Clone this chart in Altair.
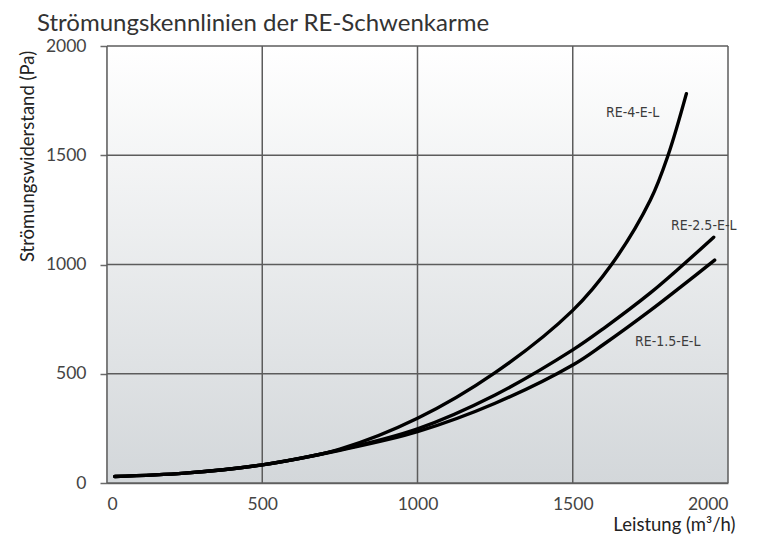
import altair as alt
import pandas as pd

# --- data ---
x_re4 = [25, 250, 500, 750, 1000, 1250, 1500, 1625, 1750, 1807, 1866]
y_re4 = [30, 45, 83, 155, 296, 505, 790, 1000, 1295, 1500, 1782]

x_re25 = [25, 250, 500, 750, 1000, 1250, 1500, 1600, 1750, 1850, 1954]
y_re25 = [30, 45, 83, 152, 248, 403, 609, 708, 870, 992, 1125]

x_re15 = [25, 250, 500, 750, 1000, 1250, 1500, 1600, 1750, 1850, 1957]
y_re15 = [30, 45, 83, 150, 235, 365, 540, 635, 790, 900, 1020]

series_names = ["RE-4-E-L", "RE-2.5-E-L", "RE-1.5-E-L"]
label_x = [1693, 1922, 1806]
label_y = [1694, 1178, 645]

x_ticks = [0, 500, 1000, 1500, 2000]
y_ticks = [0, 500, 1000, 1500, 2000]

rows = []
for name, xs, ys in zip(series_names, [x_re4, x_re25, x_re15], [y_re4, y_re25, y_re15]):
    for i, (a, b) in enumerate(zip(xs, ys)):
        rows.append({"serie": name, "q": a, "p": b, "order": i})
df = pd.DataFrame(rows)
labels = pd.DataFrame({"serie": series_names, "q": label_x, "p": label_y})
vgrid = pd.DataFrame({"q": x_ticks})
hgrid = pd.DataFrame({"p": y_ticks})

W, H = 621, 437
FONT = "Lato"

xscale = alt.Scale(domain=[0, 2000], nice=False, zero=False)
yscale = alt.Scale(domain=[0, 2000], nice=False, zero=False)

xaxis = alt.Axis(values=x_ticks, format="d", title="Leistung (m³/h)", ticks=False,
                 grid=False, labelPadding=12, titleX=628, titleY=41,
                 titleAlign="right", titleAnchor="end", titleBaseline="middle")
yaxis = alt.Axis(values=y_ticks, format="d", title="Strömungswiderstand (Pa)",
                 grid=False, tickSize=7, labelPadding=14,
                 titleX=-80, titleY=110, titleAngle=-90,
                 titleAlign="center", titleAnchor="middle", titleBaseline="middle")

background = alt.Chart(pd.DataFrame({"a": [0]})).mark_rect(
    fill={"gradient": "linear", "x1": 0, "y1": 0, "x2": 0, "y2": 1,
          "stops": [{"offset": 0, "color": "#ffffff"},
                    {"offset": 1, "color": "#d3d7da"}]}
).encode(x=alt.value(0), x2=alt.value(W), y=alt.value(0), y2=alt.value(H))

vrules = alt.Chart(vgrid).mark_rule(color="#5c5c5c", strokeWidth=1.5).encode(
    x=alt.X("q:Q", scale=xscale, axis=xaxis)
)
hrules = alt.Chart(hgrid).mark_rule(color="#5c5c5c", strokeWidth=1.5).encode(
    y=alt.Y("p:Q", scale=yscale, axis=yaxis)
)

lines = alt.Chart(df).mark_line(
    color="#000000", strokeWidth=3.4, interpolate="catmull-rom", strokeCap="round"
).encode(
    x=alt.X("q:Q", scale=xscale, axis=xaxis),
    y=alt.Y("p:Q", scale=yscale, axis=yaxis),
    detail="serie:N",
    order="order:Q",
)

texts = alt.Chart(labels).mark_text(
    font="'DejaVu Sans Condensed', 'Roboto Condensed', Roboto, sans-serif",
    fontSize=14, color="#3c3c3c", align="center", baseline="middle"
).encode(
    x=alt.X("q:Q", scale=xscale),
    y=alt.Y("p:Q", scale=yscale),
    text="serie:N",
)

chart = alt.layer(background, vrules, hrules, lines, texts).properties(
    width=W, height=H,
    title=alt.TitleParams(
        "Strömungskennlinien der RE-Schwenkarme",
        anchor="start", frame="group", dx=-70, offset=1,
        font=FONT, fontSize=24, fontWeight="normal", color="#333333",
    ),
    autosize=alt.AutoSizeParams(type="none"),
    padding={"left": 99, "top": 38, "right": 25, "bottom": 52},
).configure(
    background="#ffffff"
).configure_view(
    stroke=None,
).configure_axis(
    domainColor="#6a6a6a", domainWidth=1.5, tickColor="#6a6a6a", tickWidth=1.5,
    labelFont=FONT, labelFontSize=17.5, labelColor="#444444",
    titleFont=FONT, titleFontSize=18.5, titleFontWeight="normal",
    titleColor="#222222",
)

chart.save("out.html", embed_options={"renderer": "svg", "actions": False})
